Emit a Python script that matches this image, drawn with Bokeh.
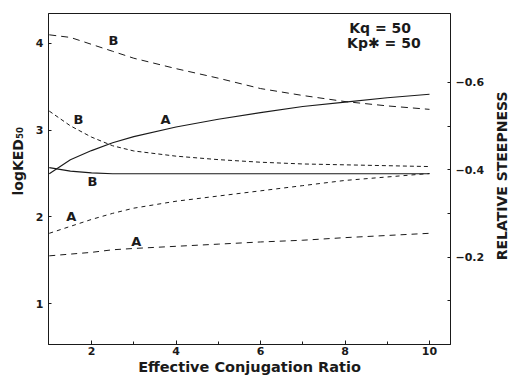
import math
from bokeh.plotting import figure
from bokeh.layouts import row
from bokeh.models import Range1d, LinearAxis, FixedTicker, Label, ColumnDataSource, Title
from bokeh.core.properties import value
from bokeh.embed import file_html
from bokeh.resources import INLINE

# ---- data ----
conj_ratio = [1, 1.5, 2, 2.5, 3, 4, 5, 6, 7, 8, 9, 10]
logked_B_high = [4.10, 4.07, 3.99, 3.91, 3.83, 3.71, 3.60, 3.48, 3.40, 3.33, 3.28, 3.24]
logked_B_low = [3.22, 3.05, 2.92, 2.82, 2.76, 2.70, 2.66, 2.63, 2.61, 2.60, 2.59, 2.58]
logked_A_high = [1.81, 1.89, 1.97, 2.04, 2.10, 2.18, 2.24, 2.30, 2.36, 2.42, 2.46, 2.50]
logked_A_low = [1.55, 1.57, 1.59, 1.62, 1.635, 1.66, 1.685, 1.71, 1.73, 1.76, 1.785, 1.81]
steep_A = [-0.391, -0.423, -0.444, -0.462, -0.476, -0.498, -0.516, -0.531, -0.545, -0.555, -0.565, -0.573]
steep_B = [-0.405, -0.397, -0.393, -0.391, -0.391, -0.391, -0.391, -0.391, -0.391, -0.391, -0.391, -0.391]

x_ticks = [2, 4, 6, 8, 10]
x_minor = [3, 5, 7, 9]
left_ticks = [1, 2, 3, 4]
right_ticks = [-0.6, -0.4, -0.2]
right_tick_labels = ["\u22120.6", "\u22120.4", "\u22120.2"]
right_minor = [-0.5, -0.3, -0.1]

curve_labels = ["B", "B", "A", "B", "A", "A"]
label_x = [2.52, 1.69, 3.75, 2.02, 1.52, 3.06]
label_y = [4.03, 3.12, 3.12, 2.41, 2.00, 1.72]

FONT = "DejaVu Sans"
INK = "#1a1a1a"

p = figure(width=491, height=377, output_backend="svg", toolbar_location=None,
           x_range=Range1d(0.982, 10.497), y_range=Range1d(0.527, 4.346),
           min_border_left=48, min_border_right=41, min_border_top=13, min_border_bottom=33)
p.background_fill_color = "white"
p.border_fill_color = "white"
p.outline_line_color = INK
p.outline_line_width = 1
p.xgrid.visible = False
p.ygrid.visible = False

p.extra_y_ranges = {"steep": Range1d(start=0.0, end=-0.758)}

def style_ticks(ax):
    ax.major_label_text_font = FONT
    ax.major_label_text_font_style = "bold"
    ax.major_label_text_font_size = "11px"
    ax.major_label_text_color = INK
    ax.axis_line_color = INK
    ax.major_tick_line_color = INK
    ax.minor_tick_line_color = INK
    ax.major_tick_out = 0
    ax.minor_tick_out = 0

# bottom axis
xa = p.xaxis[0]
xa.ticker = FixedTicker(ticks=x_ticks, minor_ticks=x_minor)
style_ticks(xa)
xa.axis_label = "Effective Conjugation Ratio"
xa.axis_label_text_font = FONT
xa.axis_label_text_font_style = "bold"
xa.axis_label_text_font_size = "14.5px"
xa.axis_label_text_color = INK
xa.axis_label_standoff = 1
xa.major_label_standoff = 2
xa.major_tick_in = 4
xa.minor_tick_in = 3

# left axis
ya = p.yaxis[0]
ya.ticker = FixedTicker(ticks=left_ticks, minor_ticks=[])
style_ticks(ya)
ya.major_label_standoff = 5
ya.major_tick_in = 3
ya.minor_tick_in = 0

# left axis title, shifted upwards like the reference
p.add_layout(Title(text="logKED\u2085\u2080", align="left", offset=149, standoff=14,
                   text_font=FONT, text_font_style="bold", text_font_size="14px",
                   text_color=INK), "left")

# right axis (relative steepness)
ra = LinearAxis(y_range_name="steep",
                ticker=FixedTicker(ticks=right_ticks, minor_ticks=right_minor))
style_ticks(ra)
ra.major_label_overrides = {t: s for t, s in zip(right_ticks, right_tick_labels)}
ra.major_label_standoff = 5
ra.major_tick_in = 3
ra.minor_tick_in = 3
p.add_layout(ra, "right")

# curves (logKED50, left axis)
p.line(conj_ratio, logked_B_high, line_color=INK, line_width=1, line_dash="7 5")
p.line(conj_ratio, logked_B_low, line_color=INK, line_width=1, line_dash="4 3")
p.line(conj_ratio, logked_A_high, line_color=INK, line_width=1, line_dash="4 4")
p.line(conj_ratio, logked_A_low, line_color=INK, line_width=1, line_dash="6 5")
# curves (relative steepness, right axis)
p.line(conj_ratio, steep_A, line_color=INK, line_width=1.1, y_range_name="steep")
p.line(conj_ratio, steep_B, line_color=INK, line_width=1.1, y_range_name="steep")

src = ColumnDataSource(dict(x=label_x, y=label_y, t=curve_labels))
p.text(x="x", y="y", text="t", source=src, text_font=value(FONT), text_font_style="bold",
       text_font_size="13px", text_align="center", text_baseline="middle", text_color=INK)

p.add_layout(Label(x=8.1, y=4.18, text="Kq = 50", text_font=FONT, text_font_style="bold",
                   text_font_size="14px", text_baseline="middle", text_color=INK))
p.add_layout(Label(x=8.05, y=4.0, text="Kp\u2731 = 50", text_font=FONT, text_font_style="bold",
                   text_font_size="14px", text_baseline="middle", text_color=INK))

# narrow strip holding the right-hand axis title (reads bottom to top)
p2 = figure(width=18, height=377, output_backend="svg", toolbar_location=None,
            x_range=Range1d(0, 18), y_range=Range1d(0, 377),
            x_axis_type=None, y_axis_type=None, min_border=0)
p2.outline_line_color = None
p2.background_fill_color = "white"
p2.border_fill_color = "white"
p2.xgrid.visible = False
p2.ygrid.visible = False
p2.text(x=[10.5], y=[192], text=["RELATIVE STEEPNESS"], angle=math.pi / 2,
        text_font=value(FONT), text_font_style="bold", text_font_size="14px",
        text_align="center", text_baseline="middle", text_color=INK)

layout = row(p, p2, spacing=0)
open("out.html", "w").write(file_html(layout, INLINE))
